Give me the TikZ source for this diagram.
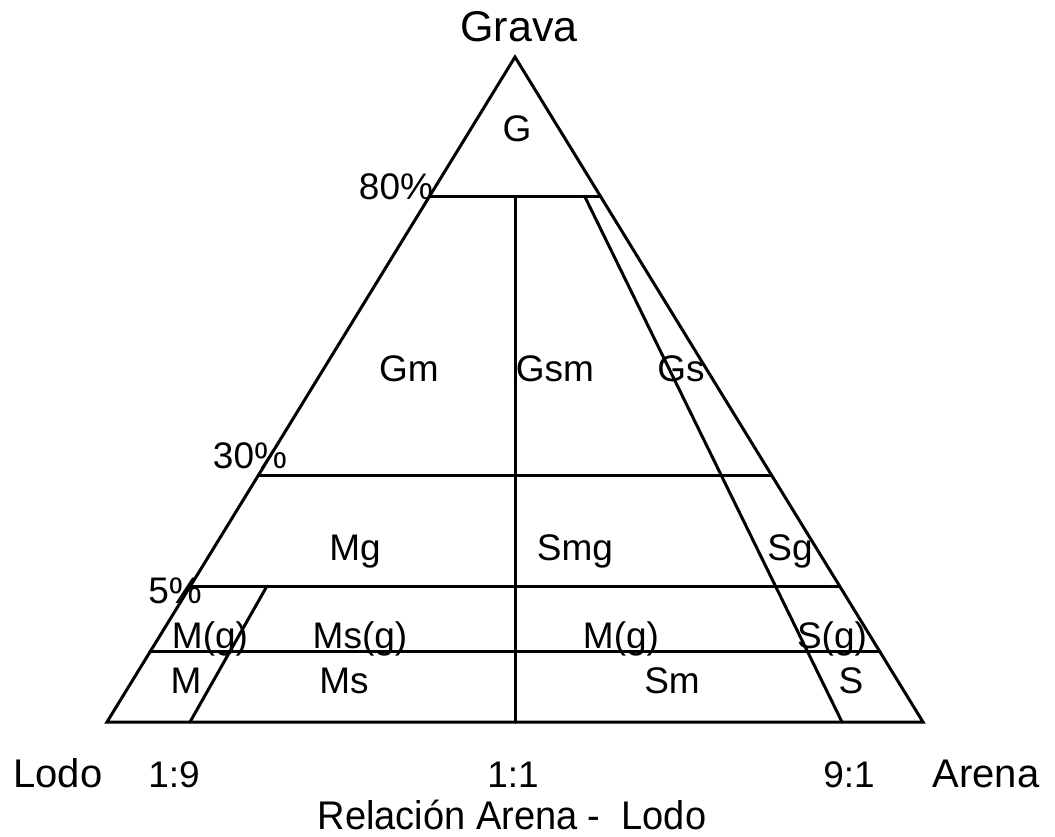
\documentclass[tikz,border=0pt]{standalone}
\usepackage{fontspec}
\setmainfont{Liberation Sans}
\usetikzlibrary{calc}
\tikzset{
  ln/.style={line width=3pt, line cap=round, line join=miter},
  lab/.style={anchor=base, inner sep=0pt, font=\fontsize{37}{40}\selectfont},
  axl/.style={anchor=base, inner sep=0pt, font=\fontsize{40}{44}\selectfont},
}
\begin{document}
\begin{tikzpicture}[x=1pt,y=-1pt]
\useasboundingbox (0,0) rectangle (1055,837);
% corners
\coordinate (A) at (515,57);
\coordinate (BL) at (107,722);
\coordinate (BR) at (923,722);
% edge points
\coordinate (L80) at ($(A)!0.2105!(BL)$);
\coordinate (R80) at ($(A)!0.2105!(BR)$);
\coordinate (L30) at ($(A)!0.6286!(BL)$);
\coordinate (R30) at ($(A)!0.6286!(BR)$);
\coordinate (L5) at ($(A)!0.7955!(BL)$);
\coordinate (R5) at ($(A)!0.7955!(BR)$);
\coordinate (L1) at ($(A)!0.8947!(BL)$);
\coordinate (R1) at ($(A)!0.8947!(BR)$);
\coordinate (V80) at (515,197);
\coordinate (V0) at (515,722);
\coordinate (N1t) at (585,197);
\coordinate (N1b) at (842,722);
\coordinate (O9t) at (267,586);
\coordinate (O9b) at (190,722);
% outline
\draw[ln] (A) -- (BL) -- (BR) -- cycle;
\draw[ln] (L80) -- (R80);
\draw[ln] (L30) -- (R30);
\draw[ln] (L5) -- (R5);
\draw[ln] (L1) -- (R1);
\draw[ln] (V80) -- (V0);
\draw[ln] (N1t) -- (N1b);
\draw[ln] (O9t) -- (O9b);
% labels
\node[axl, font=\fontsize{43}{46}\selectfont] (grava) at (519,42) {Grava};
\node[lab] (g) at (517,142) {G};
\node[lab] (p80) at (396,200) {80\%};
\node[lab] (gm) at (409,381) {Gm};
\node[lab] (gsm) at (555,381) {Gsm};
\node[lab] (gs) at (681,381) {Gs};
\node[lab] (p30) at (250,468) {30\%};
\node[lab] (mg) at (355,560) {Mg};
\node[lab] (smg) at (575,560) {Smg};
\node[lab] (sg) at (790,560) {Sg};
\node[lab] (p5) at (175,603) {5\%};
\node[lab] (mgl) at (210,648) {M(g)};
\node[lab] (msg) at (360,648) {Ms(g)};
\node[lab] (mgr) at (621,648) {M(g)};
\node[lab] (sgp) at (832,648) {S(g)};
\node[lab] (m) at (186,693) {M};
\node[lab] (ms) at (344,693) {Ms};
\node[lab] (sm) at (672,693) {Sm};
\node[lab] (s) at (851,693) {S};
\node[axl] (lodo) at (58,787) {Lodo};
\node[lab] (r19) at (174,787) {1:9};
\node[lab] (r11) at (513,787) {1:1};
\node[lab] (r91) at (849,787) {9:1};
\node[axl] (arena) at (986,787) {Arena};
\node[axl, xscale=0.95] (rel) at (512,829) {Relación Arena -\ \ Lodo};
\end{tikzpicture}
\end{document}
